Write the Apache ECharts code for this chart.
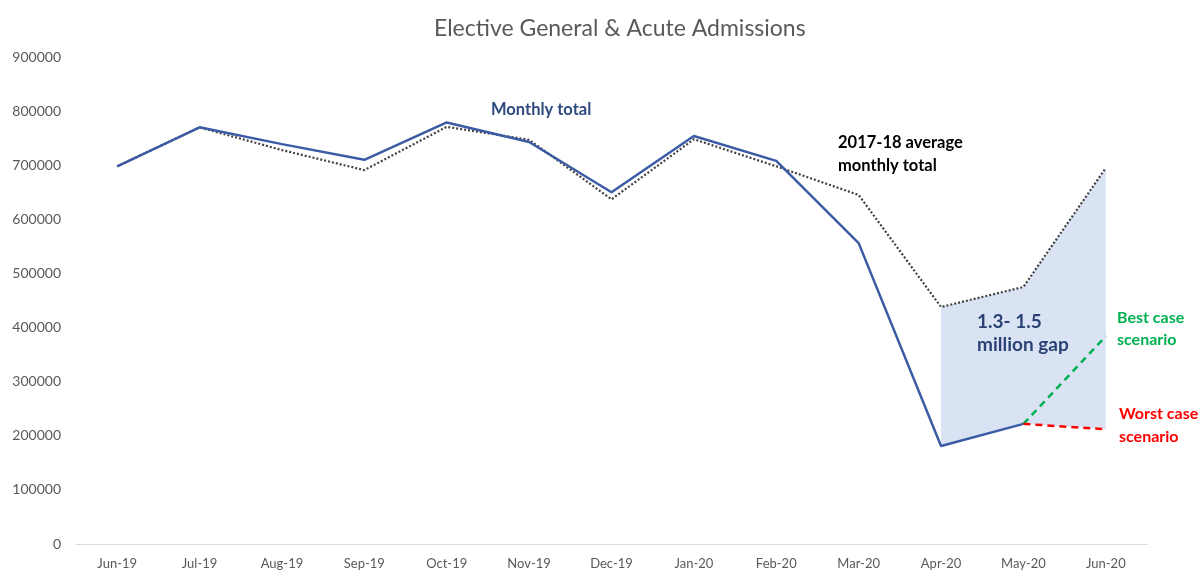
<!DOCTYPE html>
<html>
<head>
<meta charset="utf-8">
<script src="https://cdn.jsdelivr.net/npm/echarts@6/dist/echarts.min.js"></script>
<style>html,body{margin:0;padding:0;background:#fff}#c{width:1203px;height:570px}</style>
</head>
<body>
<div id="c"></div>
<script>
var categories = ['Jun-19','Jul-19','Aug-19','Sep-19','Oct-19','Nov-19','Dec-19','Jan-20','Feb-20','Mar-20','Apr-20','May-20','Jun-20'];
var monthlyTotal = [698000, 770000, 739000, 710000, 779000, 743000, 650000, 754000, 708000, 556000, 181000, 222000, '-'];
var average1718 = [698000, 770000, 728000, 691000, 771000, 747000, 637000, 748000, 698000, 645000, 438000, 475000, 695000];
var bestCase = ['-','-','-','-','-','-','-','-','-','-','-', 222000, 384000];
var worstCase = ['-','-','-','-','-','-','-','-','-','-','-', 222000, 212000];
var gapBase = ['-','-','-','-','-','-','-','-','-','-', 181000, 222000, 212000];
var yTicks = [0, 100000, 200000, 300000, 400000, 500000, 600000, 700000, 800000, 900000];

var gapHeight = gapBase.map(function (b, i) { return b === '-' ? '-' : average1718[i] - b; });

var FONT = 'Lato';
var chart = echarts.init(document.getElementById('c'));
chart.setOption({
  animation: false,
  textStyle: { fontFamily: FONT },
  graphic: [
    { type: 'text', z: 100, left: 434, top: 17, style: { text: 'Elective General & Acute Admissions', font: '23px Lato', fill: '#595959' } },
    { type: 'text', z: 100, left: 491, top: 101, style: { text: 'Monthly total', font: 'bold 16.5px Lato', fill: '#2f4a7e', lineHeight: 18 } },
    { type: 'text', z: 100, left: 838, top: 131.5, style: { text: '2017-18 average\nmonthly total', font: 'bold 16.5px Lato', fill: '#000', lineHeight: 23 } },
    { type: 'text', z: 100, left: 977, top: 310.5, style: { text: '1.3- 1.5\nmillion gap', font: 'bold 19px Lato', fill: '#2a4275', lineHeight: 23 } },
    { type: 'text', z: 100, left: 1117, top: 307, style: { text: 'Best case\nscenario', font: 'bold 16px Lato', fill: '#00b050', lineHeight: 22 } },
    { type: 'text', z: 100, left: 1119, top: 402.5, style: { text: 'Worst case\nscenario', font: 'bold 16px Lato', fill: '#ff0000', lineHeight: 23 } }
  ],
  grid: { left: 76, right: 56, top: 57, bottom: 26 },
  xAxis: {
    type: 'category', data: categories, boundaryGap: true,
    axisLine: { lineStyle: { color: '#d9d9d9', width: 1 } },
    axisTick: { show: false },
    axisLabel: { color: '#595959', fontSize: 13, margin: 13, fontFamily: FONT }
  },
  yAxis: {
    type: 'value', min: yTicks[0], max: yTicks[yTicks.length - 1], interval: 100000,
    splitLine: { show: false },
    axisLine: { show: false }, axisTick: { show: false },
    axisLabel: { color: '#595959', fontSize: 14, margin: 15, fontFamily: FONT,
      formatter: function (v) { return String(v); } }
  },
  series: [
    { name: 'gapBase', type: 'line', stack: 'gap', data: gapBase, symbol: 'none',
      lineStyle: { opacity: 0 }, silent: true, z: 1 },
    { name: 'gap', type: 'line', stack: 'gap', data: gapHeight, symbol: 'none',
      lineStyle: { opacity: 0 }, areaStyle: { color: '#dae3f3', opacity: 1 }, silent: true, z: 1 },
    { name: '2017-18 average monthly total', type: 'line', data: average1718, symbol: 'none',
      lineStyle: { color: '#404040', width: 2.2, type: [2, 2] }, z: 3 },
    { name: 'Monthly total', type: 'line', data: monthlyTotal, symbol: 'none',
      lineStyle: { color: '#3b5ca5', width: 2.5 }, z: 4 },
    { name: 'Best case', type: 'line', data: bestCase, symbol: 'none',
      lineStyle: { color: '#00b050', width: 2.5, type: [7, 5] }, z: 4 },
    { name: 'Worst case', type: 'line', data: worstCase, symbol: 'none',
      lineStyle: { color: '#ff0000', width: 2.5, type: [7, 5] }, z: 4 }
  ]
});
</script>
</body>
</html>
